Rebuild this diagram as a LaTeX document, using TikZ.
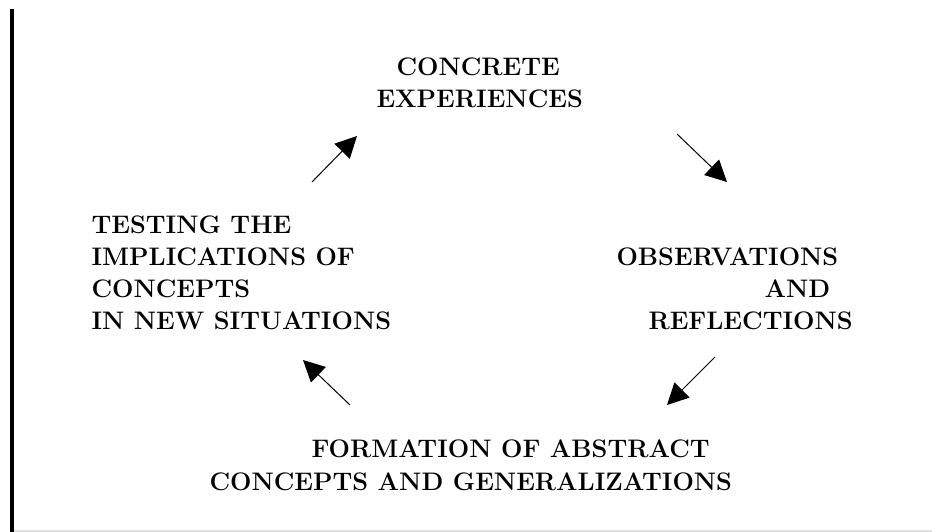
\documentclass[tikz,border=0pt]{standalone}
\usetikzlibrary{arrows.meta}

\tikzset{every picture/.style={line width=0.75pt}}
\tikzset{cyclelabel/.style={anchor=base west,inner sep=0.75pt},
  cyclearrow/.style={-{Triangle[length=16pt,width=16pt]}}}

\begin{document}
\begin{tikzpicture}[x=0.75pt,y=0.75pt,yscale=-1,xscale=1,font=\fontsize{19}{23}\selectfont\bfseries]
\useasboundingbox (0,0) rectangle (932,532);

%Shape: Rectangle [id:bar_left] 
\fill [color={rgb, 255:red, 0; green, 0; blue, 0 }] (10,9) rectangle (14,532) ;
%Straight Lines [id:line_bottom] 
\draw [color={rgb, 255:red, 225; green, 225; blue, 225 }  ,line width=1.5pt]  (14,531) -- (932,531) ;

% Text Node
\draw (395,75) node [cyclelabel] (conc1) {CONCRETE};
% Text Node
\draw (375,107) node [cyclelabel] (conc2) {EXPERIENCES};
% Text Node
\draw (615,265) node [cyclelabel] (obs1) {OBSERVATIONS};
% Text Node
\draw (763,297) node [cyclelabel] (obs2) {AND};
% Text Node
\draw (647,329) node [cyclelabel] (obs3) {REFLECTIONS};
% Text Node
\draw (310,457) node [cyclelabel] (form1) {FORMATION OF ABSTRACT};
% Text Node
\draw (208,490) node [cyclelabel] (form2) {CONCEPTS AND GENERALIZATIONS};
% Text Node
\draw (90,233) node [cyclelabel] (test1) {TESTING THE};
% Text Node
\draw (90,265) node [cyclelabel] (test2) {IMPLICATIONS OF};
% Text Node
\draw (90,297) node [cyclelabel] (test3) {CONCEPTS};
% Text Node
\draw (90,329) node [cyclelabel] (test4) {IN NEW SITUATIONS};

%Arrow ends
\coordinate (a1s) at (677,134) ;
\coordinate (a1e) at (727,182) ;
\coordinate (a2s) at (715,357) ;
\coordinate (a2e) at (667,405) ;
\coordinate (a3s) at (350,405) ;
\coordinate (a3e) at (303,360) ;
\coordinate (a4s) at (312,182) ;
\coordinate (a4e) at (357,136) ;

%Straight Lines [id:arrow_exp_obs] 
\draw [cyclearrow]   (a1s) -- (a1e) ;
%Straight Lines [id:arrow_obs_form] 
\draw [cyclearrow]   (a2s) -- (a2e) ;
%Straight Lines [id:arrow_form_test] 
\draw [cyclearrow]   (a3s) -- (a3e) ;
%Straight Lines [id:arrow_test_exp] 
\draw [cyclearrow]   (a4s) -- (a4e) ;

\end{tikzpicture}
\end{document}
